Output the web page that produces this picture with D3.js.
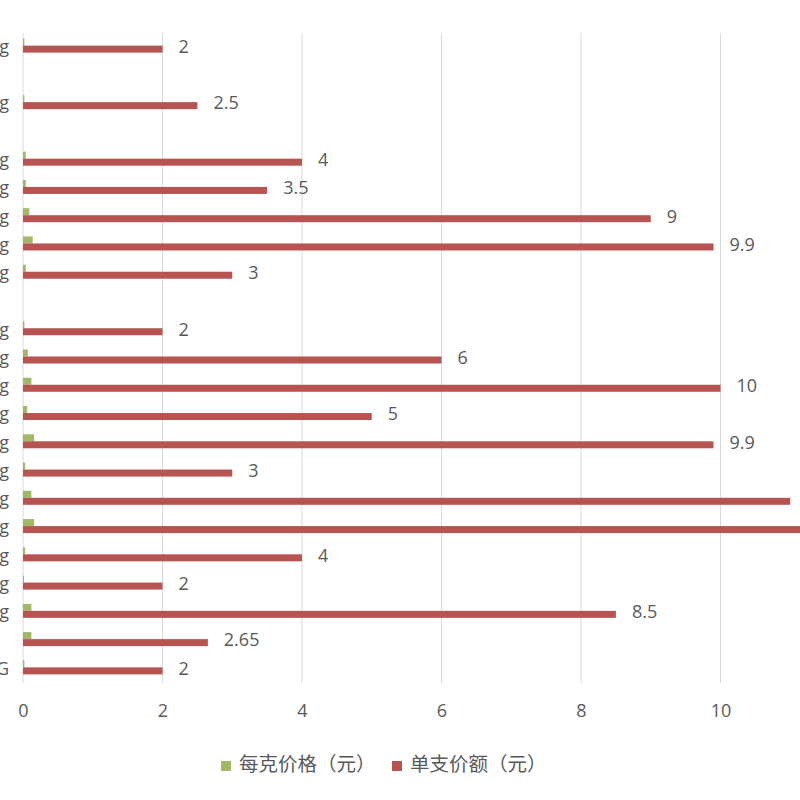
<!DOCTYPE html>
<html>
<head>
<meta charset="utf-8">
<script src="https://cdn.jsdelivr.net/npm/d3@7"></script>
<style>
  body { margin: 0; background: #fff; }
  svg { display: block; }
</style>
</head>
<body>
<div id="chart"></div>
<script>
// category labels (left side of the chart is cropped, only the last letter shows)
const categoryLabels = ['g', '', 'g', '', 'g', 'g', 'g', 'g', 'g', '', 'g', 'g', 'g', 'g', 'g', 'g', 'g', 'g', 'g', 'g', 'g', '', 'G'];

// 每克价格（元）
const pricePerGram = [0.02, null, 0.02, null, 0.04, 0.04, 0.09, 0.14, 0.04, null, 0.02, 0.07, 0.12, 0.06, 0.16, 0.03, 0.12, 0.16, 0.03, 0.01, 0.12, 0.12, 0.02];

// 单支价额（元）
const pricePerStick = [2, null, 2.5, null, 4, 3.5, 9, 9.9, 3, null, 2, 6, 10, 5, 9.9, 3, 11, 12, 4, 2, 8.5, 2.65, 2];

const xTicks = [0, 2, 4, 6, 8, 10];
const seriesNames = ['每克价格（元）', '单支价额（元）'];
const seriesColors = ['#a3b866', '#b75452'];

const W = 800, H = 800;
const plot = { left: 23, right: 860, top: 33, bottom: 683 };

const svg = d3.select('#chart').append('svg')
  .attr('width', W)
  .attr('height', H);

const rows = categoryLabels.map((label, i) => ({
  i: i,
  label: label,
  g: pricePerGram[i],
  r: pricePerStick[i]
}));

const x = d3.scaleLinear().domain([0, 12]).range([plot.left, plot.right]);
const y = d3.scaleBand().domain(rows.map(d => d.i)).range([plot.top, plot.bottom]).padding(0);
const bw = y.bandwidth();
const inner = d3.scaleBand().domain(['g', 'r']).range([bw / 2 - 8.5, bw / 2 + 5.5]).padding(0);

// gridlines
svg.append('g')
  .selectAll('line')
  .data(xTicks)
  .join('line')
  .attr('x1', d => x(d)).attr('x2', d => x(d))
  .attr('y1', plot.top).attr('y2', plot.bottom)
  .attr('stroke', '#d9d9d9')
  .attr('stroke-width', 1);

// x axis tick labels
const xAxis = d3.axisBottom(x).tickValues(xTicks).tickSize(0).tickPadding(0);
const xg = svg.append('g')
  .attr('transform', `translate(0,${plot.bottom + 21})`)
  .call(xAxis);
xg.select('.domain').remove();
xg.selectAll('text')
  .attr('fill', '#595959')
  .attr('font-family', '"Open Sans", "Noto Sans", sans-serif')
  .attr('font-size', 18);

// category labels
svg.append('g')
  .selectAll('text')
  .data(rows)
  .join('text')
  .attr('x', 9)
  .attr('y', d => y(d.i) + bw / 2 + 1)
  .attr('text-anchor', 'end')
  .attr('dominant-baseline', 'middle')
  .attr('fill', '#595959')
  .attr('font-family', '"Open Sans", "Noto Sans", sans-serif')
  .attr('font-size', 18)
  .text(d => d.label);

// green bars
svg.append('g')
  .selectAll('rect')
  .data(rows.filter(d => d.g != null))
  .join('rect')
  .attr('x', x(0))
  .attr('y', d => y(d.i) + inner('g'))
  .attr('width', d => Math.max(1, x(d.g) - x(0)))
  .attr('height', inner.bandwidth())
  .attr('fill', seriesColors[0]);

// red bars
svg.append('g')
  .selectAll('rect')
  .data(rows.filter(d => d.r != null))
  .join('rect')
  .attr('x', x(0))
  .attr('y', d => y(d.i) + inner('r'))
  .attr('width', d => x(d.r) - x(0))
  .attr('height', inner.bandwidth())
  .attr('fill', seriesColors[1]);

// red data labels (those past the right edge are cropped away in the reference)
svg.append('g')
  .selectAll('text')
  .data(rows.filter(d => d.r != null && x(d.r) + 16 < W))
  .join('text')
  .attr('x', d => x(d.r) + 16)
  .attr('y', d => y(d.i) + inner('r') + inner.bandwidth() / 2 - 1)
  .attr('dominant-baseline', 'middle')
  .attr('fill', '#595959')
  .attr('font-family', '"Open Sans", "Noto Sans", sans-serif')
  .attr('font-size', 18)
  .text(d => d.r);

// legend
const legend = svg.append('g').attr('transform', 'translate(221,766)');
const legendX = [0, 171];
seriesNames.forEach((name, k) => {
  const lg = legend.append('g').attr('transform', `translate(${legendX[k]},0)`);
  lg.append('rect')
    .attr('x', 0).attr('y', -5)
    .attr('width', 10).attr('height', 10)
    .attr('fill', seriesColors[k]);
  lg.append('text')
    .attr('x', 18).attr('y', 0)
    .attr('dominant-baseline', 'middle')
    .attr('fill', '#595959')
    .attr('font-family', '"Noto Sans CJK SC", sans-serif')
    .attr('font-size', 19.5)
    .text(name);
});
</script>
</body>
</html>
